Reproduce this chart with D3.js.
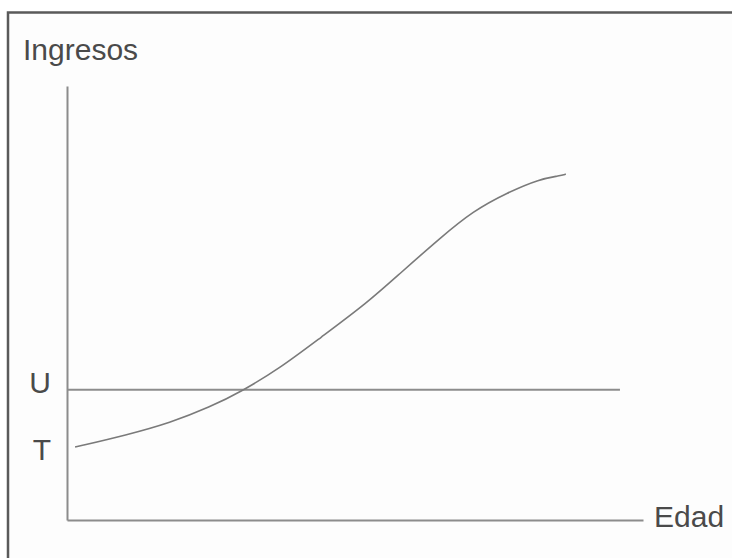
<!DOCTYPE html>
<html>
<head>
<meta charset="utf-8">
<script src="https://cdn.jsdelivr.net/npm/d3@7"></script>
<style>
  html, body { margin: 0; padding: 0; background: #fff; overflow: hidden; }
  svg { display: block; font-family: "Liberation Sans", Arial, sans-serif; }
</style>
</head>
<body>
<svg id="chart"></svg>
<script>
// Edad (x) and Ingresos (y) in arbitrary 0..100 units
const edad     = [1.4, 10.4, 17.9, 24.8, 30.4, 37.0, 43.9, 52.1, 57.8, 64.8, 70.5, 76.4, 82.1, 85.6, 86.6];
const ingresos = [16.8, 19.6, 22.4, 26.0, 29.7, 35.0, 41.9, 50.0, 56.8, 65.0, 71.2, 75.4, 78.6, 79.3, 79.7];
const uLevel = 30.0;      // horizontal line U
const uEnd = 96;          // where line U stops on the age axis
const tLevel = 16;        // T mark on the income axis
const yTickLabels = ["T", "U"];

const W = 732, H = 558;
const svg = d3.select('#chart').attr('width', W).attr('height', H);

// frame (only left and top edges show inside the crop)
svg.append('rect')
  .attr('x', 8).attr('y', 12.5)
  .attr('width', W + 40).attr('height', H + 40)
  .attr('fill', '#fdfdfd')
  .attr('stroke', '#5a5a5a').attr('stroke-width', 2.5);

const x = d3.scaleLinear().domain([0, 100]).range([67, 643]);
const y = d3.scaleLinear().domain([0, 100]).range([520, 86]);

const axisColor = '#8c8c8c';
const textColor = '#4a4a4a';

// y axis with T / U labels
const gy = svg.append('g')
  .attr('transform', `translate(${x(0)},0)`)
  .call(d3.axisLeft(y).tickValues([tLevel, uLevel])
    .tickFormat((d, i) => yTickLabels[i])
    .tickSize(0).tickSizeOuter(0).tickPadding(16));
gy.select('.domain').attr('stroke', axisColor).attr('stroke-width', 2);
gy.selectAll('text')
  .attr('font-size', 30).attr('fill', textColor)
  .attr('font-family', '"Liberation Sans", Arial, sans-serif')
  .attr('dy', d => d === uLevel ? '0.1em' : '0.3em');

// x axis, no ticks
const gx = svg.append('g')
  .attr('transform', `translate(0,${y(0)})`)
  .call(d3.axisBottom(x).tickValues([]).tickSizeOuter(0));
gx.select('.domain').attr('stroke', axisColor).attr('stroke-width', 2);

// axis titles
svg.append('text')
  .attr('x', 23).attr('y', 60)
  .attr('font-size', 30).attr('fill', textColor)
  .text('Ingresos');
svg.append('text')
  .attr('x', x(100) + 11).attr('y', y(0) + 7)
  .attr('font-size', 30).attr('fill', textColor)
  .text('Edad');

// line U
svg.append('line')
  .attr('x1', x(0)).attr('x2', x(uEnd))
  .attr('y1', y(uLevel)).attr('y2', y(uLevel))
  .attr('stroke', axisColor).attr('stroke-width', 2);

// income curve
const pts = edad.map((e, i) => [e, ingresos[i]]);
svg.append('path')
  .datum(pts)
  .attr('fill', 'none')
  .attr('stroke', '#7a7a7a')
  .attr('stroke-width', 1.6)
  .attr('d', d3.line().x(d => x(d[0])).y(d => y(d[1])).curve(d3.curveBasis));
</script>
</body>
</html>
